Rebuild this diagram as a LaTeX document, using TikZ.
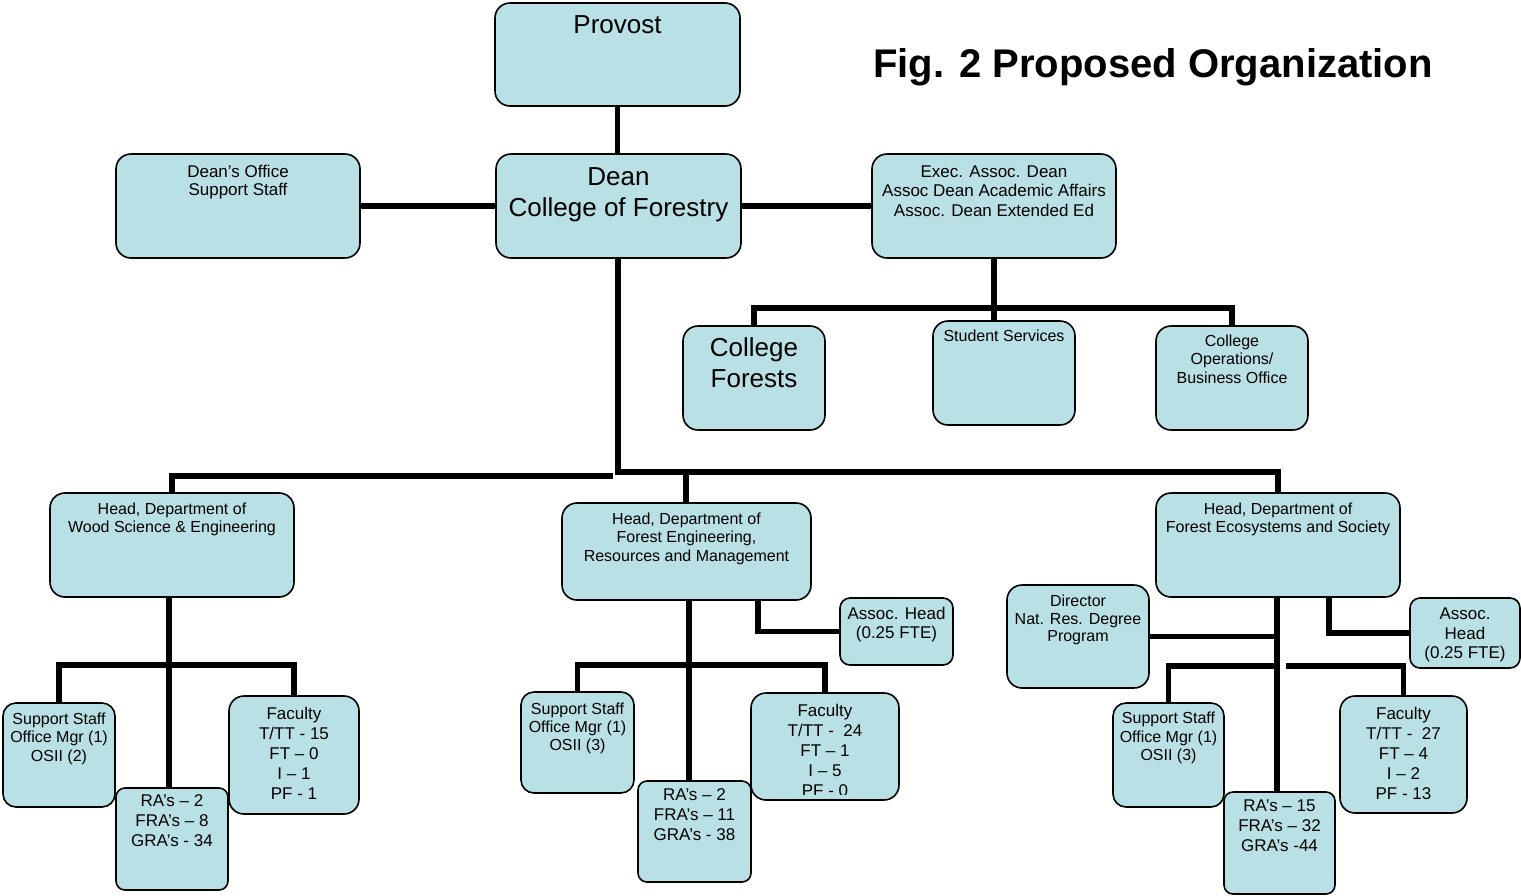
\documentclass[tikz,border=0pt]{standalone}
\usepackage{fontspec}
\setmainfont{Liberation Sans}
\usetikzlibrary{calc}
\definecolor{boxfill}{RGB}{185,224,228}
\pgfdeclarelayer{bg}
\pgfsetlayers{bg,main}
\newcommand{\bx}[6]{\node[box, rounded corners=#6pt, minimum width={(#4-#2)*1pt}, minimum height={(#5-#3)*1pt}] (#1) at ({(#2+#4)/2},{(#3+#5)/2}) {};}
% #1 name, #2 x, #3 first baseline, #4 size, #5 skip, #6 lines, #7 text
\newcommand{\tx}[7]{\node[txt, anchor=base, font=\fontsize{#4}{#5}\selectfont] (#1) at ({#2},{#3+(#6-1)*#5}) {#7};}
\begin{document}
\begin{tikzpicture}[x=1pt,y=-1pt,
 box/.style={draw=black, line width=1.6pt, fill=boxfill, inner sep=0pt, outer sep=0pt},
 txt/.style={align=center, inner sep=0pt, text=black},
 conn/.style={line width=5.5pt, black, line join=miter}]
\useasboundingbox (0,0) rectangle (1521,895);

% boxes
\bx{provost}{495}{3}{740}{106}{15}
\bx{dean}{496}{154}{741}{258}{15}
\bx{deanoff}{116}{154}{360}{258}{15}
\bx{exec}{872}{154}{1116}{258}{15}
\bx{forests}{683}{326}{825}{430}{15}
\bx{student}{933}{321}{1075}{425}{15}
\bx{business}{1156}{326}{1308}{430}{15}
\bx{wse}{50}{493}{294}{597}{15}
\bx{ferm}{562}{503}{811}{600}{15}
\bx{fes}{1156}{493}{1400}{597}{15}
\bx{wsup}{3}{703}{115}{807}{13}
\bx{wra}{116}{788}{228}{890}{9}
\bx{wfac}{229}{696}{359}{814}{15}
\bx{fsup}{521}{692}{634}{793}{13}
\bx{fra}{638}{781}{751}{882}{9}
\bx{ffac}{751}{693}{899}{800}{15}
\bx{fassoc}{840}{598}{953}{665}{10}
\bx{dir}{1007}{585}{1149}{688}{15}
\bx{esup}{1113}{703}{1224}{807}{13}
\bx{era}{1224}{792}{1335}{894}{9}
\bx{efac}{1340}{696}{1467}{813}{15}
\bx{eassoc}{1410}{598}{1520}{668}{10}

% texts
\node[inner sep=0pt, anchor=base, font=\bfseries\fontsize{40}{48}\selectfont] (title) at (1153,77) {Fig. 2 Proposed Organization};
\tx{provost-t}{617.5}{33}{26}{31}{1}{Provost}
\tx{dean-t}{618.5}{185}{26}{31}{2}{Dean\\College of Forestry}
\tx{deanoff-t}{238}{177}{17}{18.5}{2}{Dean’s Office\\Support Staff}
\tx{exec-t}{994}{177}{17}{19.5}{3}{Exec. Assoc. Dean\\Assoc Dean Academic Affairs\\Assoc. Dean Extended Ed}
\tx{forests-t}{754}{356.5}{26}{30.5}{2}{College\\Forests}
\tx{student-t}{1004}{341.5}{16}{18}{1}{Student Services}
\tx{business-t}{1232}{346.5}{16}{18.3}{3}{College\\Operations/\\Business Office}
\tx{wse-t}{172}{514}{16}{18.7}{2}{Head, Department of\\Wood Science \& Engineering}
\tx{ferm-t}{686.5}{524}{16}{18.5}{3}{Head, Department of\\Forest Engineering,\\Resources and Management}
\tx{fes-t}{1278}{514}{16}{18.7}{2}{Head, Department of\\Forest Ecosystems and Society}
\tx{wsup-t}{59}{724.3}{16}{18.4}{3}{Support Staff\\Office Mgr (1)\\OSII (2)}
\tx{wra-t}{172}{806}{17}{20}{3}{RA’s – 2\\FRA’s – 8\\GRA’s - 34}
\tx{wfac-t}{294}{719.3}{17}{20}{5}{Faculty\\T/TT - 15\\FT – 0\\I – 1\\PF - 1}
\tx{fsup-t}{577.5}{714}{16}{18.3}{3}{Support Staff\\Office Mgr (1)\\OSII (3)}
\tx{fra-t}{694.5}{800.7}{17}{19.7}{3}{RA’s – 2\\FRA’s – 11\\GRA’s - 38}
\begin{scope}
\clip (751,693) rectangle (899,794);
\tx{ffac-t}{825}{716}{17}{20}{5}{Faculty\\T/TT - \ 24\\FT – 1\\I – 5\\PF - 0}
\end{scope}
\tx{fassoc-t}{896.5}{619.3}{17}{19}{2}{Assoc. Head\\(0.25 FTE)}
\tx{dir-t}{1078}{606.7}{16}{17.5}{3}{Director\\Nat. Res. Degree\\Program}
\tx{eassoc-t}{1465}{619.3}{17}{19.8}{3}{Assoc.\\Head\\(0.25 FTE)}
\tx{esup-t}{1168.5}{723.3}{16}{18.7}{3}{Support Staff\\Office Mgr (1)\\OSII (3)}
\tx{era-t}{1279.5}{811.7}{17}{19.7}{3}{RA’s – 15\\FRA’s – 32\\GRA’s -44}
\tx{efac-t}{1403.5}{719.3}{17}{20}{5}{Faculty\\T/TT - \ 27\\FT – 4\\I – 2\\PF - 13}

% connectors
\begin{pgfonlayer}{bg}
\draw[conn] (provost.south) -- (provost.south |- dean.north);
\draw[conn] (deanoff.east) -- (dean.west);
\draw[conn] (dean.east) -- (exec.west);
\coordinate (ja) at (994,308);
\draw[conn] (exec.south -| ja) -- (student.north -| ja);
\draw[conn] (forests.north) |- (ja) -| (business.north);
\coordinate (jd) at (618,472);
\draw[conn] (dean.south -| jd) -- (jd) -| (fes.north);
\coordinate (jf) at (686,472);
\draw[conn] (jf) -- (ferm.north -| jf);
\coordinate (jl) at (613,476);
\draw[conn] (jl) -| (wse.north);
\coordinate (wj) at (169,665);
\draw[conn] (wse.south -| wj) -- (wra.north -| wj);
\draw[conn] (wsup.north) |- (wj) -| (wfac.north);
\coordinate (fj) at (689,665);
\draw[conn] (ferm.south -| fj) -- (fra.north -| fj);
\draw[conn] (fsup.north) |- (fj) -| (ffac.north);
\coordinate (fa) at (758,632);
\draw[conn] (ferm.south -| fa) |- (fassoc.west);
\coordinate (ej) at (1277,666);
\draw[conn] (fes.south -| ej) -- (era.north -| ej);
\draw[conn] (dir.east) -- (dir.east -| ej);
\draw[conn] (esup.north) |- (ej);
\coordinate (ej2) at (1286,666);
\draw[conn] (ej2) -| (efac.north);
\coordinate (ea) at (1329,633);
\draw[conn] (fes.south -| ea) |- (eassoc.west);
\end{pgfonlayer}
\end{tikzpicture}
\end{document}
